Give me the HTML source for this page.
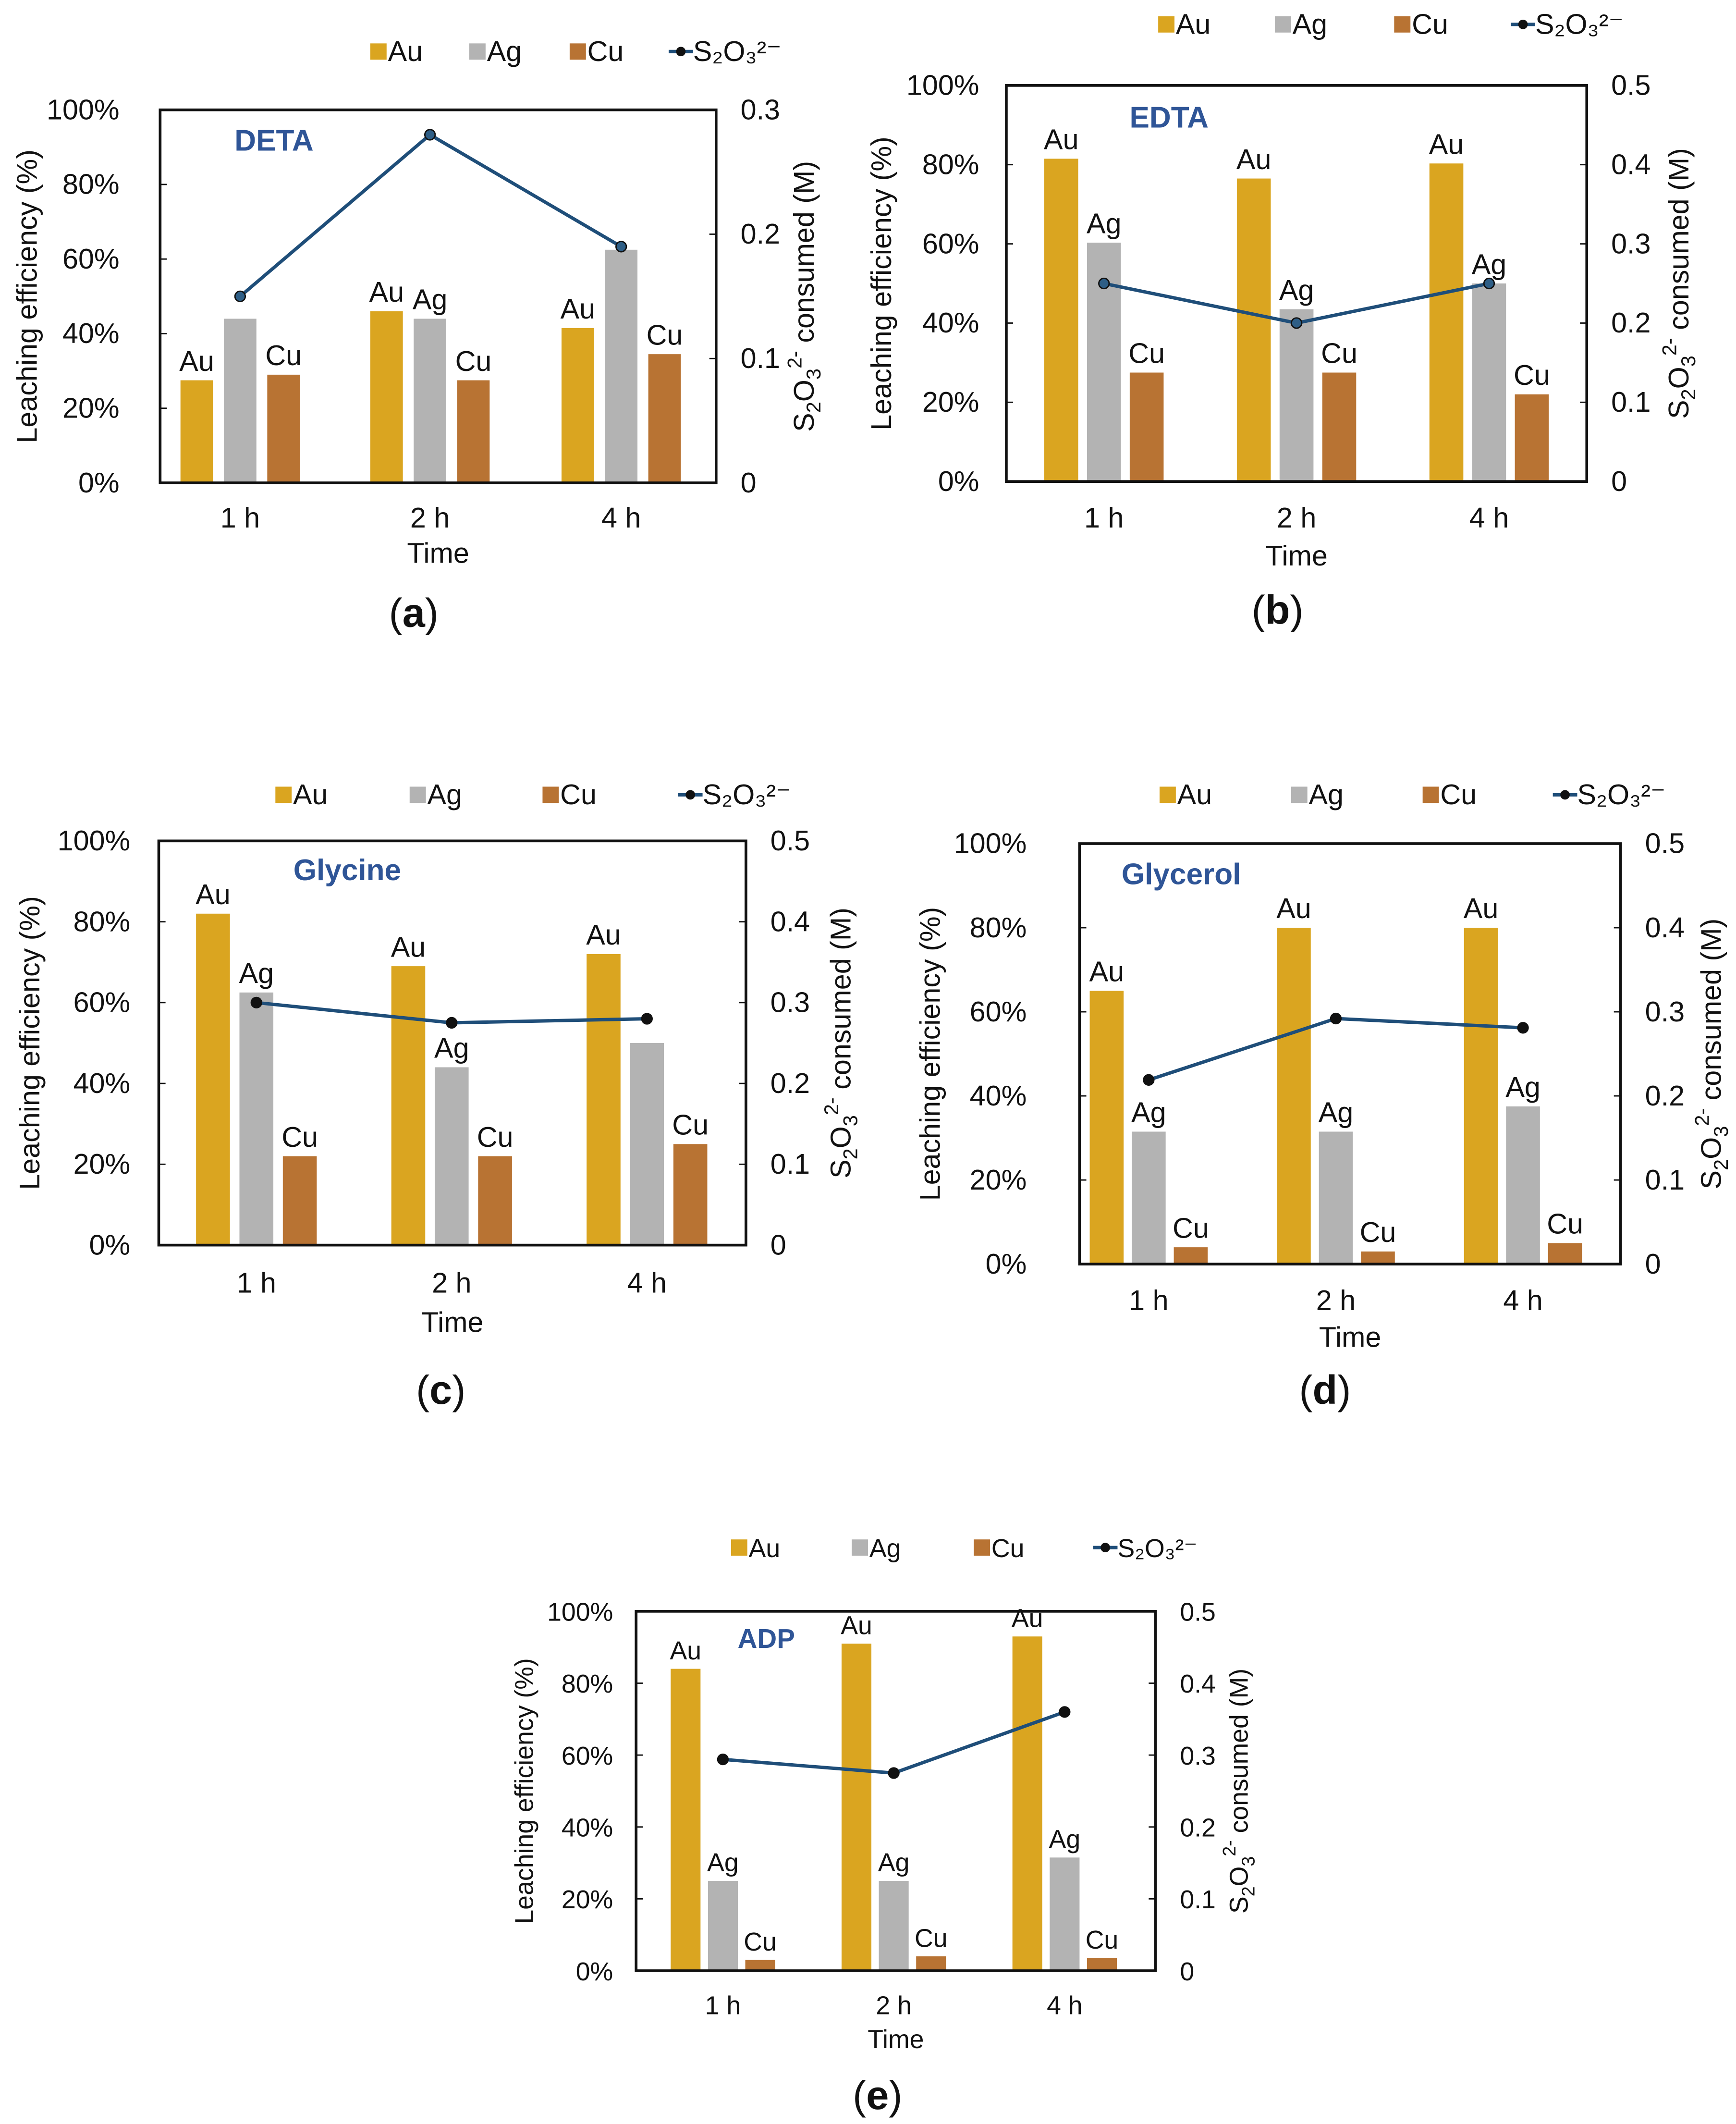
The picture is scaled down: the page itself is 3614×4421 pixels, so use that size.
<!DOCTYPE html>
<html><head><meta charset="utf-8"><style>
html,body{margin:0;padding:0;background:#fff;}
svg{display:block;}
text{font-family:"Liberation Sans",Arial,sans-serif;fill:#111;}
</style></head>
<body>
<svg id="chart" width="3614" height="4421" viewBox="0 0 1280 1566" xmlns="http://www.w3.org/2000/svg"></svg>
<script>
// ---- data ----
const categories = ["1 h", "2 h", "4 h"];
const panelTitles = ["DETA", "EDTA", "Glycine", "Glycerol", "ADP"];
const panelLetters = ["a", "b", "c", "d", "e"];
const auValues = [[27.5, 46, 41.5], [81.5, 76.5, 80.3], [82, 69, 72], [65, 80, 80], [84, 91, 93]];
const agValues = [[44, 44, 62.5], [60.3, 43.5, 50], [62.5, 44, 50], [31.5, 31.5, 37.5], [25, 25, 31.5]];
const cuValues = [[29, 27.5, 34.5], [27.5, 27.5, 22], [22, 22, 25], [4, 3, 5], [3, 4, 3.5]];
const s2o3Values = [[0.150, 0.280, 0.190], [0.25, 0.20, 0.25], [0.300, 0.275, 0.280], [0.219, 0.292, 0.281], [0.294, 0.275, 0.360]];
const rightMax = [0.3, 0.5, 0.5, 0.5, 0.5];
const leftTicks = [0, 20, 40, 60, 80, 100];
const rightTicksA = ["0", "0.1", "0.2", "0.3"];
const rightTicksB = ["0", "0.1", "0.2", "0.3", "0.4", "0.5"];
const hiddenLabels = ["0-Ag-0", "0-Ag-2", "2-Ag-2"];

// ---- layout (not data) ----
const layouts = [
 {x0:118,x1:528,y0:81,y1:356,gx:[177,317,458],off:32,bw:24,fs:21,lgap:30,title:[202,104],leg:38,legX:[285,358,432,505],ylx:20,yrx:593,xly:389,timeY:415,letter:[305,452]},
 {x0:742,x1:1170,y0:63,y1:355,gx:[814,956,1098],off:31.5,bw:25,fs:21,lgap:20,title:[862,87],leg:18,legX:[866,952,1040,1126],ylx:650,yrx:1238,xly:389,timeY:417,letter:[942,450]},
 {x0:117,x1:550,y0:620,y1:918,gx:[189,333,477],off:32,bw:25,fs:21,lgap:21,title:[256,642],leg:586,legX:[215,314,412,512],ylx:22,yrx:620,xly:953,timeY:982,letter:[325,1025]},
 {x0:796,x1:1195,y0:622,y1:932,gx:[847,985,1123],off:31,bw:25,fs:21,lgap:39,title:[871,645],leg:586,legX:[867,964,1061,1157],ylx:686,yrx:1262,xly:966,timeY:993,letter:[977,1025]},
 {x0:469,x1:852,y0:1188,y1:1453,gx:[533,659,785],off:27.5,bw:22,fs:19,lgap:17,title:[565,1208],leg:1141,legX:[551,640,730,818],ylx:386,yrx:913,xly:1485,timeY:1510,letter:[647,1545]}
];
const colors = {au:"#DAA520", ag:"#B3B3B3", cu:"#B87333", line:"#1F4E79", title:"#2F5597"};
const NS = "http://www.w3.org/2000/svg";
const svg = document.getElementById("chart");
function mk(tag, attrs, parent, txt){
  const e = document.createElementNS(NS, tag);
  for (const k in attrs) e.setAttribute(k, attrs[k]);
  if (txt !== undefined) e.textContent = txt;
  (parent || svg).appendChild(e);
  return e;
}

layouts.forEach((L, p) => {
  const g = mk("g", {});
  
  
  const yL = v => L.y1 - (v / 100) * (L.y1 - L.y0);
  const yR = v => L.y1 - (v / rightMax[p]) * (L.y1 - L.y0);
  const fs = L.fs;

  const legNames = ["Au", "Ag", "Cu"];
  const legCols = [colors.au, colors.ag, colors.cu];
  legNames.forEach((n, i) => {
    const r = mk("rect", {x:L.legX[i]-12, y:L.leg-6, width:12, height:12, fill:legCols[i]}, g);
    
    
    const t = mk("text", {x:L.legX[i]+1, y:L.leg+7, "font-size":fs}, g, n);
    
    
  });
  const lx = L.legX[3];
  mk("line", {x1:lx-12, y1:L.leg, x2:lx+6, y2:L.leg, stroke:colors.line, "stroke-width":2.5}, g);
  mk("circle", {cx:lx-3, cy:L.leg, r:3.5, fill:"#111"}, g);
  const ls = mk("text", {x:lx+6, y:L.leg+7, "font-size":fs}, g, "S₂O₃²⁻");
  
  

  [[auValues, colors.au, "Au", -1], [agValues, colors.ag, "Ag", 0], [cuValues, colors.cu, "Cu", 1]].forEach(([arr, col, nm, k]) => {
    arr[p].forEach((v, i) => {
      const cx = L.gx[i] + k * L.off;
      const b = mk("rect", {x:cx - L.bw/2, y:yL(v), width:L.bw, height:L.y1 - yL(v), fill:col}, g);
      
      
      if (hiddenLabels.indexOf(p + '-' + nm + '-' + i) < 0) {
        const t = mk("text", {x:cx, y:yL(v) - 7, "font-size":fs, "text-anchor":"middle"}, g, nm);
        
        
      }
    });
  });

  const fr = mk("rect", {x:L.x0, y:L.y0, width:L.x1-L.x0, height:L.y1-L.y0, fill:"none", stroke:"#111", "stroke-width":2}, g);
  
  

  leftTicks.forEach(v => {
    mk("line", {x1:L.x0, y1:yL(v), x2:L.x0+5, y2:yL(v), stroke:"#111", "stroke-width":1}, g);
    const t = mk("text", {x:L.x0-L.lgap, y:yL(v)+7, "font-size":fs, "text-anchor":"end"}, g, v + "%");
    
    
  });
  const rt = rightMax[p] === 0.3 ? rightTicksA : rightTicksB;
  rt.forEach(s => {
    const v = parseFloat(s);
    mk("line", {x1:L.x1, y1:yR(v), x2:L.x1-5, y2:yR(v), stroke:"#111", "stroke-width":1}, g);
    const t = mk("text", {x:L.x1+18, y:yR(v)+7, "font-size":fs}, g, s);
    
    
  });
  categories.forEach((c, i) => {
    const t = mk("text", {x:L.gx[i], y:L.xly, "font-size":fs, "text-anchor":"middle"}, g, c);
    
    
  });
  const xt = mk("text", {x:(L.x0+L.x1)/2, y:L.timeY, "font-size":fs, "text-anchor":"middle"}, g, "Time");
  
  

  const cy = (L.y0 + L.y1) / 2;
  const yl = mk("text", {x:L.ylx, y:cy, "font-size":fs, "text-anchor":"middle", transform:`rotate(-90 ${L.ylx} ${cy})`, dy:7}, g, "Leaching efficiency (%)");
  
  
  const yr = mk("text", {x:L.yrx, y:cy, "font-size":fs, "text-anchor":"middle", transform:`rotate(-90 ${L.yrx} ${cy})`, dy:7}, g);
  
  
  mk("tspan", {}, yr, "S");
  mk("tspan", {"font-size":fs*0.7, dy:5}, yr, "2");
  mk("tspan", {dy:-5}, yr, "O");
  mk("tspan", {"font-size":fs*0.7, dy:5}, yr, "3");
  mk("tspan", {"font-size":fs*0.7, dy:-14}, yr, "2-");
  mk("tspan", {dy:9}, yr, "  consumed (M)");

  const pts = s2o3Values[p].map((v, i) => [L.gx[i], yR(v)]);
  const pl = mk("polyline", {points:pts.map(q => q.join(",")).join(" "), fill:"none", stroke:colors.line, "stroke-width":2.5}, g);
  
  
  pts.forEach(q => {
    const c = mk("circle", {cx:q[0], cy:q[1], r:3.8, fill:p < 2 ? "#2E5E86" : "#111", stroke:"#111", "stroke-width":1}, g);
    
    
  });

  const tt = mk("text", {x:L.title[0], y:L.title[1]+7, "font-size":fs+1, "font-weight":"bold", "text-anchor":"middle", style:"fill:"+colors.title}, g, panelTitles[p]);
  
  
  const lt = mk("text", {x:L.letter[0], y:L.letter[1]+10, "font-size":30, "text-anchor":"middle"}, g);
  
  
  mk("tspan", {}, lt, "(");
  mk("tspan", {"font-weight":"bold"}, lt, panelLetters[p]);
  mk("tspan", {}, lt, ")");
});
</script>
</body></html>
